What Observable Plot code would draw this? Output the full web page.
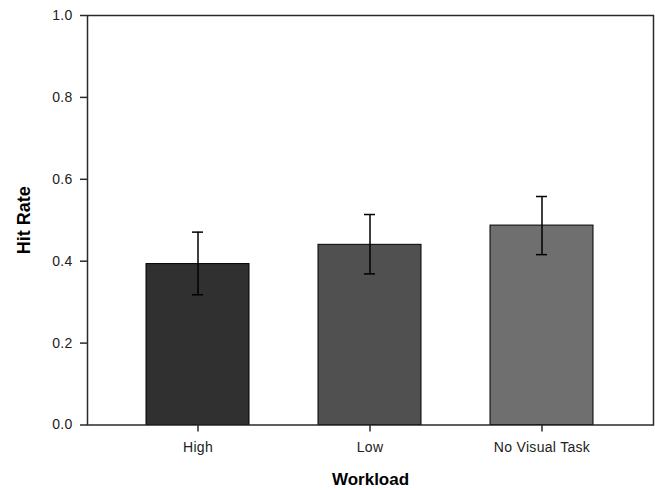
<!DOCTYPE html>
<html>
<head>
<meta charset="utf-8">
<script src="https://cdn.jsdelivr.net/npm/d3@7"></script>
<script src="https://cdn.jsdelivr.net/npm/@observablehq/plot@0.6"></script>
<style>
  body { margin: 0; background: #fff; }
  svg { font-family: "Liberation Sans", Arial, sans-serif; }
</style>
</head>
<body>
<div id="chart"></div>
<script>
const categories = ["High", "Low", "No Visual Task"];
const hitRate = [0.393, 0.440, 0.487];
const errLow = [0.318, 0.369, 0.416];
const errHigh = [0.471, 0.514, 0.558];
const barColors = ["#303030", "#505050", "#6f6f6f"];
const yTicks = [0, 0.2, 0.4, 0.6, 0.8, 1.0];

const data = categories.map((c, i) => ({
  cat: c, v: hitRate[i], lo: errLow[i], hi: errHigh[i], color: barColors[i]
}));

const chart = Plot.plot({
  width: 655,
  height: 490,
  marginLeft: 87,
  marginRight: 2,
  marginTop: 15,
  marginBottom: 65.5,
  style: { fontFamily: '"Liberation Sans", Arial, sans-serif', fontSize: "14px", color: "#222" },
  x: { domain: categories, paddingInner: 0.4, paddingOuter: 0.345, label: null },
  y: { domain: [0, 1], label: null },
  marks: [
    Plot.barY(data, { x: "cat", y: "v", fill: "color", stroke: "#000", strokeWidth: 1 }),
    Plot.ruleX(data, { x: "cat", y1: "lo", y2: "hi", stroke: "#000", strokeWidth: 1.5 }),
    Plot.tickY(data, { x: "cat", y: "lo", stroke: "#000", strokeWidth: 1.5, insetLeft: 46, insetRight: 46 }),
    Plot.tickY(data, { x: "cat", y: "hi", stroke: "#000", strokeWidth: 1.5, insetLeft: 46, insetRight: 46 }),
    Plot.frame({ stroke: "#2a2a2a", strokeWidth: 1.5 }),
    Plot.axisY({ ticks: yTicks, tickFormat: d3.format(".1f"), tickSize: 7, tickPadding: 8, stroke: "#2a2a2a", strokeWidth: 1.5,
      label: "Hit Rate", labelAnchor: "center", labelOffset: 70 }),
    Plot.axisX({ tickSize: 7, tickPadding: 10, stroke: "#2a2a2a", strokeWidth: 1.5,
      label: "Workload", labelAnchor: "center", labelOffset: 60 })
  ]
});

const svg = d3.select(chart);
svg.selectAll("[aria-label='y-axis tick label'] text, [aria-label='x-axis tick label'] text")
  .style("letter-spacing", "0.3px");
svg.select("[aria-label='y-axis label'] text").text("Hit Rate");
svg.select("[aria-label='x-axis label'] text").text("Workload");
svg.selectAll("[aria-label='y-axis label'], [aria-label='x-axis label']")
  .style("font-weight", "bold")
  .style("fill", "#000");
svg.select("[aria-label='y-axis label']").style("font-size", "18px");
svg.select("[aria-label='x-axis label']").style("font-size", "17px");

document.getElementById("chart").appendChild(chart);
</script>
</body>
</html>
